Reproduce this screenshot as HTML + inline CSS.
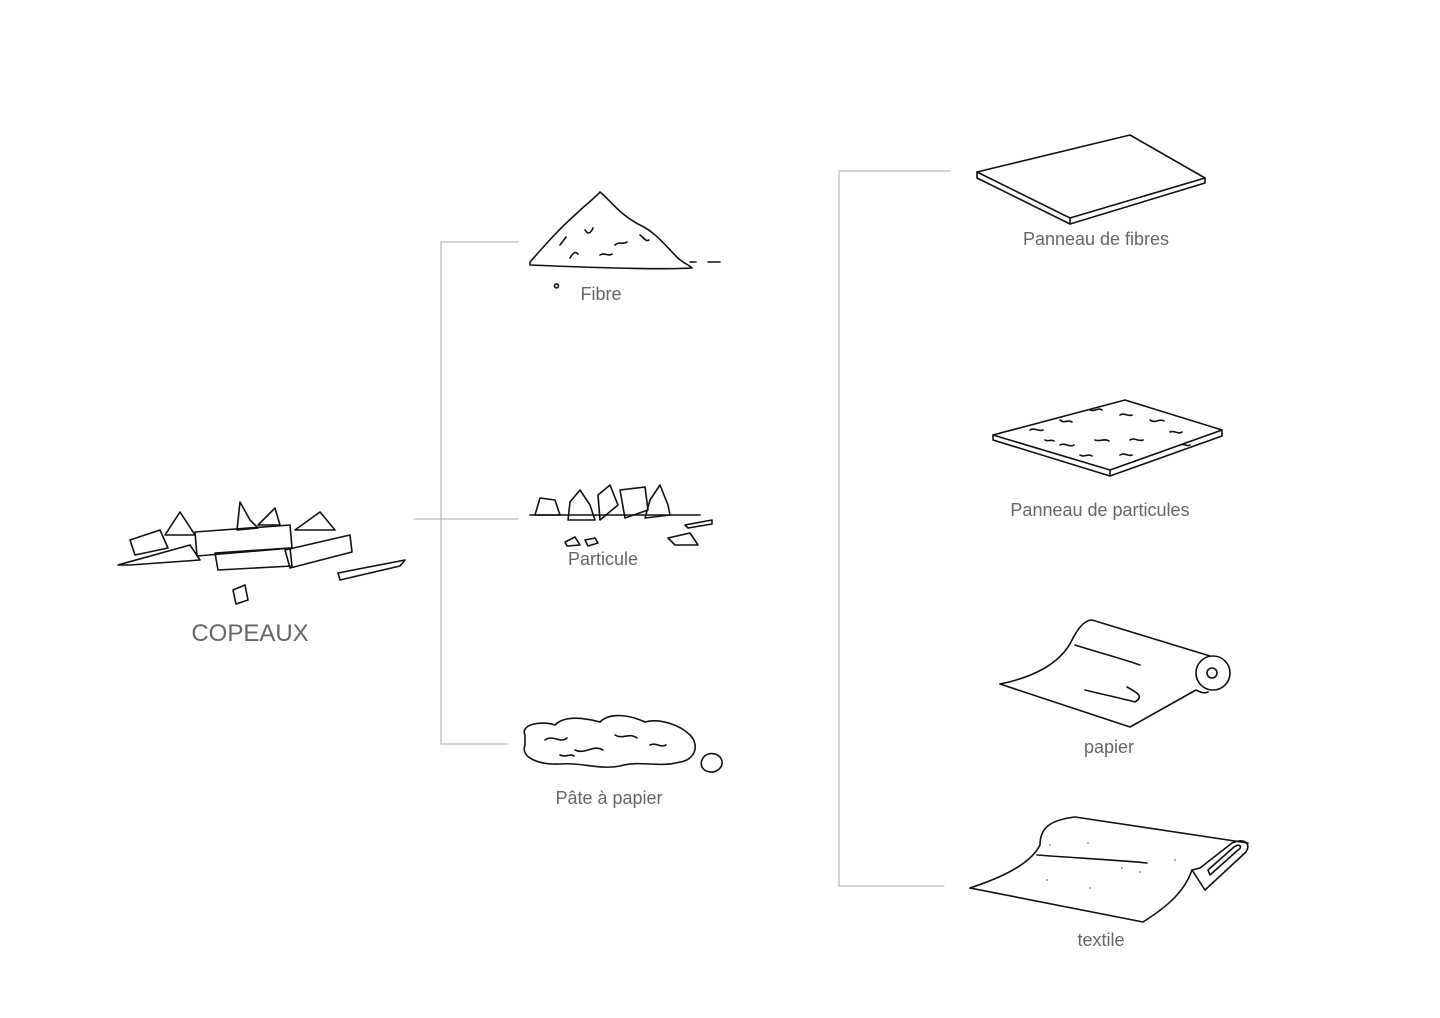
<!DOCTYPE html>
<html><head><meta charset="utf-8"><style>
html,body{margin:0;padding:0;background:#fff;}
body{width:1440px;height:1018px;position:relative;overflow:hidden;font-family:"Liberation Sans",sans-serif;}
.l{position:absolute;color:#666;font-size:18px;transform:translateX(-50%);white-space:nowrap;}
svg{position:absolute;left:0;top:0;}
</style></head><body>
<svg width="1440" height="1018" viewBox="0 0 1440 1018" fill="none" stroke-linecap="round" stroke-linejoin="round">
<g stroke="#aaa" stroke-width="1">
<path d="M441 242V744M441 242H518M414 519H518M441 744H508"/>
<path d="M839 171V886M839 171H950M839 886H944"/>
</g>
<g stroke="#111" stroke-width="1.6">
<!-- copeaux -->
<path d="M118 565L190 545L200 560L130 565Z"/>
<path d="M130 540L160 530L168 548L135 555Z"/>
<path d="M165 535L180 512L195 535Z"/>
<path d="M195 532L290 525L292 548L197 556Z"/>
<path d="M237 530L240 502L250 520L258 528Z"/>
<path d="M258 525L275 508L280 525Z"/>
<path d="M295 530L320 512L335 530Z"/>
<path d="M215 553L290 548L292 566L218 570Z"/>
<path d="M285 550L350 535L352 552L290 568Z"/>
<path d="M338 573L405 560L400 566L340 580Z"/>
<path d="M233 590L245 585L248 600L236 604Z"/>
<!-- fibre -->
<path d="M530 262C545 245 560 228 575 215C585 205 595 198 600 192C610 200 620 215 640 225C655 232 665 245 675 255C680 262 690 265 692 268C660 270 600 268 530 265Z"/>
<path d="M560 245l6 -8M585 230c3 5 6 3 8 -2M615 245c4 -4 8 0 12 -3M640 235c4 3 6 7 9 5M600 255c5 -3 8 2 12 -1M570 258c3 -5 5 -7 8 -4M708 262h12M690 262h6M556 284a2 2 0 1 0 1 0"/>
<!-- particule -->
<path d="M535 515L540 498L555 500L560 515Z"/>
<path d="M570 502L580 490L590 505L595 520L568 520Z"/>
<path d="M598 495L610 485L618 505L600 520Z"/>
<path d="M620 490L645 487L648 510L625 518Z"/>
<path d="M650 500L660 485L668 505L670 515L645 518Z"/>
<path d="M530 515H700"/>
<path d="M685 525L712 520L712 524L688 528Z"/>
<path d="M668 538L690 533L698 545L675 545Z"/>
<path d="M565 542L575 537L580 545L567 546Z"/>
<path d="M585 540L595 538L598 543L588 546Z"/>
<!-- pate -->
<path d="M525 735C520 725 540 720 555 725C565 715 585 718 600 722C610 712 630 715 645 722C660 718 680 725 690 735C700 745 695 760 680 762C660 768 640 760 620 766C600 770 580 762 560 764C540 765 520 758 525 745Z"/>
<path d="M545 740c8 -6 15 4 22 -2M575 750c10 5 18 -6 28 0M615 735c8 5 14 -3 22 3M650 745c6 -3 10 3 16 0M560 755c6 3 10 -2 14 1"/>
<path d="M702 760C705 752 715 752 720 757C726 765 718 773 710 772C702 771 700 765 702 760Z"/>
<!-- panneau de fibres -->
<path d="M977 172L1130 135L1205 178L1070 218Z"/>
<path d="M977 172L977 178L1070 224L1205 183L1205 178"/>
<path d="M1070 218L1070 224"/>
<!-- panneau de particules -->
<path d="M993 435L1125 400L1222 430L1110 470Z"/>
<path d="M993 435L993 440L1110 476L1222 436L1222 430"/>
<path d="M1110 470L1110 476"/>
<path d="M1030 430c5 -3 8 2 13 0M1060 420c4 4 8 -1 12 2M1090 410c5 2 8 -3 12 0M1120 415c4 -3 8 2 12 0M1150 420c5 4 10 -2 14 1M1060 445c5 -3 9 3 14 0M1095 440c5 2 9 -2 14 1M1130 440c4 -3 9 2 13 0M1170 432c5 -2 8 3 12 0M1080 455c4 3 8 -2 12 1M1120 455c5 -3 8 2 12 0M1045 440c3 2 6 -1 9 1M1180 445c4 -2 7 2 10 0"/>
<!-- papier -->
<path d="M1000 684C1030 678 1060 665 1072 640C1078 628 1085 620 1092 620L1210 656"/>
<path d="M1000 684L1130 727L1196 690C1200 692 1204 694 1208 692"/>
<circle cx="1213" cy="673" r="17"/><circle cx="1212" cy="673" r="5"/>
<path d="M1075 645c25 8 45 13 65 20M1085 690c20 5 35 8 50 12c8 -5 5 -8 -8 -15"/>
<!-- textile -->
<path d="M970 888C1000 878 1030 865 1040 845C1040 828 1050 820 1075 817L1248 843"/>
<path d="M970 888L1143 922C1170 905 1185 890 1192 870"/>
<path d="M1192 870L1205 890L1246 852C1252 842 1242 838 1232 843L1200 868Z"/>
<path d="M1210 875L1238 850C1243 847 1240 843 1234 847L1208 870Z"/>
<path d="M1037 855c40 3 80 5 110 8"/>
</g>
<g fill="#999"><circle cx="1050" cy="845" r="1"/><circle cx="1088" cy="843" r="1"/><circle cx="1122" cy="868" r="1"/><circle cx="1140" cy="872" r="1"/><circle cx="1047" cy="880" r="1"/><circle cx="1090" cy="888" r="1"/><circle cx="1175" cy="860" r="1"/></g>
</svg>
<div class="l" style="left:250px;top:620px;font-size:24px;">COPEAUX</div>
<div class="l" style="left:601px;top:284px;">Fibre</div>
<div class="l" style="left:603px;top:549px;">Particule</div>
<div class="l" style="left:609px;top:788px;">Pâte à papier</div>
<div class="l" style="left:1096px;top:229px;">Panneau de fibres</div>
<div class="l" style="left:1100px;top:500px;">Panneau de particules</div>
<div class="l" style="left:1109px;top:737px;">papier</div>
<div class="l" style="left:1101px;top:930px;">textile</div>
</body></html>
